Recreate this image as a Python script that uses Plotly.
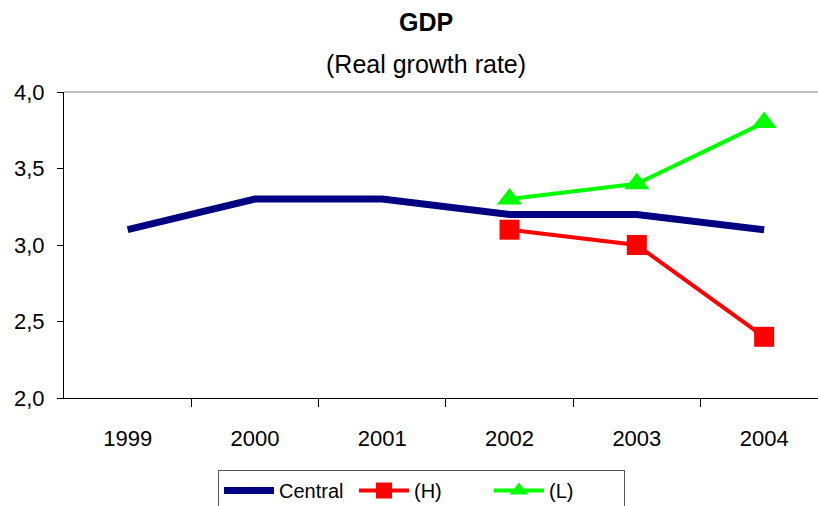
import plotly.graph_objects as go

years = ["1999", "2000", "2001", "2002", "2003", "2004"]
central = [3.1, 3.3, 3.3, 3.2, 3.2, 3.1]
high_years = ["2002", "2003", "2004"]
high = [3.1, 3.0, 2.4]
low_years = ["2002", "2003", "2004"]
low = [3.3, 3.4, 3.8]
y_ticks = [2.0, 2.5, 3.0, 3.5, 4.0]

idx = {y: i for i, y in enumerate(years)}
FONT = "Liberation Sans Narrow, Arial Narrow, Liberation Sans, Arial"

fig = go.Figure()
fig.add_trace(go.Scatter(x=[idx[y] for y in years], y=central, mode="lines", name="Central",
                         line=dict(color="#000080", width=7)))
fig.add_trace(go.Scatter(x=[idx[y] for y in high_years], y=high, mode="lines+markers", name="(H)",
                         line=dict(color="#FF0000", width=4),
                         marker=dict(symbol="square", size=20, color="#FF0000")))
fig.add_trace(go.Scatter(x=[idx[y] for y in low_years], y=low, mode="lines+markers", name="(L)",
                         line=dict(color="#00FF00", width=4),
                         marker=dict(symbol="triangle-up", size=22, color="#00FF00")))
# invisible trace to activate the boundary-tick axis
fig.add_trace(go.Scatter(x=[0], y=[None], xaxis="x2", showlegend=False, hoverinfo="skip"))

xr = [-0.5, -0.5 + 754 / 127.3]
fig.update_layout(
    width=818, height=506,
    margin=dict(l=64, r=0, t=92, b=108, autoexpand=False),
    paper_bgcolor="white", plot_bgcolor="white",
    separators=",.",
    font=dict(family=FONT, size=22, color="black"),
    showlegend=True,
    xaxis=dict(range=xr, tickvals=list(range(len(years))), ticktext=years,
               ticks="", showgrid=False, zeroline=False,
               showline=True, linecolor="black", linewidth=1,
               ticklabelstandoff=21, tickfont=dict(size=22)),
    xaxis2=dict(range=xr, overlaying="x", anchor="y", side="bottom",
                tickvals=[0.5, 1.5, 2.5, 3.5, 4.5], ticktext=[""] * 5,
                ticks="outside", ticklen=8, tickcolor="black", tickwidth=1,
                showgrid=False, zeroline=False, showline=False),
    yaxis=dict(range=[2, 4], tickvals=y_ticks, tickformat=".1f",
               ticks="outside", ticklen=6, tickcolor="black",
               showgrid=False, zeroline=False,
               showline=True, linecolor="black", linewidth=1,
               ticklabelstandoff=8, tickfont=dict(size=22)),
    legend=dict(orientation="h", x=(218 - 64) / 754, y=(398 - 470) / 306,
                xanchor="left", yanchor="top",
                bordercolor="#555555", borderwidth=1, bgcolor="white",
                font=dict(size=20), itemwidth=50,
                entrywidth=70, entrywidthmode="pixels", tracegroupgap=0),
    annotations=[
        dict(text="<b>GDP</b>", xref="paper", yref="paper", x=(426 - 64) / 754,
             y=(398 - 22) / 306, xanchor="center", yanchor="middle",
             showarrow=False, font=dict(size=25)),
        dict(text="(Real growth rate)", xref="paper", yref="paper", x=(426 - 64) / 754,
             y=(398 - 64) / 306, xanchor="center", yanchor="middle",
             showarrow=False, font=dict(size=25)),
    ],
    shapes=[dict(type="line", xref="paper", yref="paper", x0=0, x1=1, y0=1, y1=1,
                 line=dict(color="#808080", width=1))],
)

fig.write_html("out.html")
